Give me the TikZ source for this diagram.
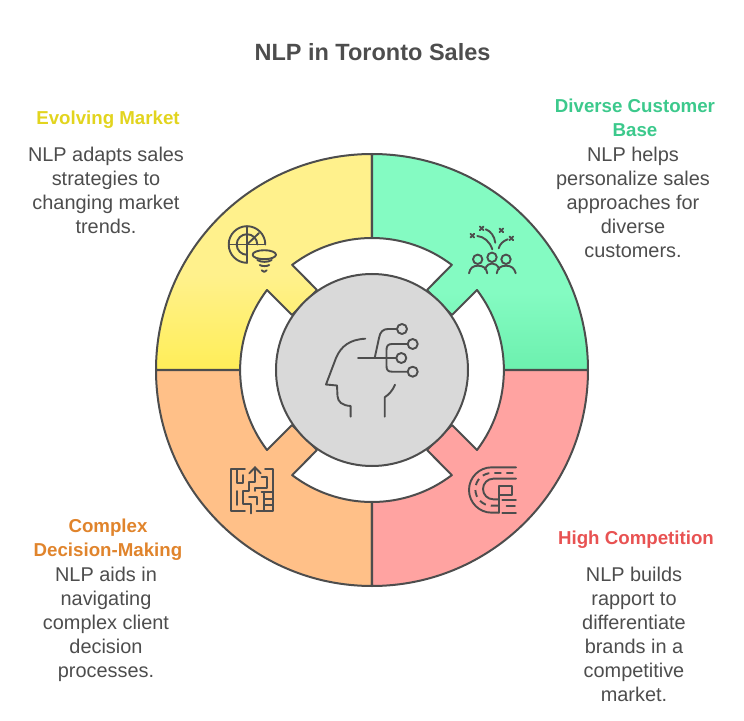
\documentclass[tikz,border=0pt]{standalone}
\usepackage{fontspec}
\setmainfont{Liberation Sans}
\usepackage{tikz}
\usetikzlibrary{positioning}

\definecolor{inkgray}{HTML}{4D4D4D}
\definecolor{hubgray}{HTML}{D9D9D9}
\definecolor{yellowtop}{HTML}{FFF18C}
\definecolor{yellowlow}{HTML}{FFEE58}
\definecolor{greentop}{HTML}{84FBC2}
\definecolor{greenlow}{HTML}{6CF0AE}
\definecolor{orangefill}{HTML}{FFC088}
\definecolor{pinkfill}{HTML}{FFA3A1}
\definecolor{yellowhead}{HTML}{E2D41E}
\definecolor{greenhead}{HTML}{3CC98C}
\definecolor{orangehead}{HTML}{E0842C}
\definecolor{redhead}{HTML}{E85252}

\pgfdeclareverticalshading{yellowquad}{100bp}{color(0bp)=(yellowlow); color(25bp)=(yellowlow); color(47bp)=(yellowtop); color(100bp)=(yellowtop)}
\pgfdeclareverticalshading{greenquad}{100bp}{color(0bp)=(greenlow); color(25bp)=(greenlow); color(43bp)=(greentop); color(100bp)=(greentop)}

\tikzset{
	quad/.style={draw=inkgray, line width=2pt, line join=round},
	icon/.style={draw=inkgray, line width=1.9pt, line cap=round, line join=round},
	head/.style={font=\fontsize{18.7}{24}\selectfont\bfseries, align=center, inner sep=0pt},
	body/.style={font=\fontsize{19.9}{24}\selectfont, text=inkgray, align=center, inner sep=0pt, xshift=-2pt},
}

\begin{document}
\begin{tikzpicture}[x=1pt,y=1pt]
	\useasboundingbox (-372,-350) rectangle (372,370);

	\draw[quad, shading=yellowquad]
		(-216,0) arc (180:90:216) -- (0,132) arc (90:127.2:132) -- (-55,80) -- (-80,55) -- (-105,80) arc (142.8:180:132) -- cycle;
	\draw[quad, shading=greenquad]
		(216,0) arc (0:90:216) -- (0,132) arc (90:52.8:132) -- (55,80) -- (80,55) -- (105,80) arc (37.2:0:132) -- cycle;
	\draw[quad, fill=orangefill]
		(-216,0) arc (180:270:216) -- (0,-132) arc (270:232.8:132) -- (-55,-80) -- (-80,-55) -- (-105,-80) arc (217.2:180:132) -- cycle;
	\draw[quad, fill=pinkfill]
		(216,0) arc (360:270:216) -- (0,-132) arc (270:307.2:132) -- (55,-80) -- (80,-55) -- (105,-80) arc (322.8:360:132) -- cycle;

	\node[circle, draw=inkgray, fill=hubgray, line width=2pt, minimum size=192pt, inner sep=0pt] (hub) at (0,0) {};

	\node[font=\fontsize{23.5}{28}\selectfont\bfseries, text=inkgray, inner sep=0pt] (title) at (0.5,318) {NLP in Toronto Sales};

	\node[head, text=yellowhead] (evolving) at (-264,250) {Evolving Market};
	\node[body, below=18pt of evolving] (evolvingtext) {NLP adapts sales\\strategies to\\changing market\\trends.};

	\node[head, text=greenhead] (diverse) at (263,252) {Diverse Customer\\Base};
	\node[body, below=10pt of diverse] (diversetext) {NLP helps\\personalize sales\\approaches for\\diverse\\customers.};

	\node[head, text=orangehead] (complex) at (-264,-170) {Complex\\Decision-Making};
	\node[body, below=6pt of complex] (complextext) {NLP aids in\\navigating\\complex client\\decision\\processes.};

	\node[head, text=redhead] (high) at (264,-170) {High Competition};
	\node[body, below=18pt of high] (hightext) {NLP builds\\rapport to\\differentiate\\brands in a\\competitive\\market.};

	\begin{scope}[shift={(-372,370)},yscale=-1]
		% head in the hub
		\draw[icon] (365.3,338.7) .. controls (350,339.5) and (341,346) .. (336,358) -- (326,384.5) -- (337,385.5) -- (337.5,396) .. controls (338,402) and (342,405.5) .. (350.7,406) -- (350.7,416.7);
		\draw[icon] (395,384.7) .. controls (393,390) and (389,394.5) .. (384.7,397.3) -- (384.7,416.7);
		\draw[icon] (358,358) -- (396.3,358);
		\draw[icon] (374.7,358) -- (379,338) .. controls (380,332) and (383,329) .. (388,329) -- (397,329);
		\draw[icon] (386.5,358) -- (386.5,350) .. controls (386.5,346) and (388,344) .. (392,344) -- (407.7,344);
		\draw[icon] (386.5,358) -- (386.5,366) .. controls (386.5,370) and (388,371.7) .. (392,371.7) -- (407.7,371.7);
		\draw[icon] (402,329) circle (5);
		\draw[icon] (412.7,344) circle (5);
		\draw[icon] (401.3,358) circle (5);
		\draw[icon] (412.7,371.7) circle (5);

		% radar and funnel
		\draw[icon] (265.3,244.5) arc (0:-270:18.3);
		\draw[icon] (257.3,244.5) arc (0:-270:10.3);
		\draw[icon] (229,244.5) -- (265.3,244.5);
		\draw[icon] (247,226.2) -- (247,262.8);
		\draw[icon] (247,244.5) -- (259,233);
		\draw[icon] (264.3,254.7) ellipse (11.7 and 4.5);
		\draw[icon] (257.3,260) .. controls (261,262.5) and (268,262.5) .. (271.7,260);
		\draw[icon] (259.8,265) .. controls (262,266.5) and (267,266.5) .. (269.2,265);
		\draw[icon] (261.7,270.3) .. controls (263,272.5) and (265.5,272.5) .. (266.7,270.3);

		% crowd and sparks
		\draw[icon] (477.7,259.3) circle (4.7);
		\draw[icon] (492,257.3) circle (4.7);
		\draw[icon] (506,259.3) circle (4.7);
		\draw[icon] (469,273.3) .. controls (470,268) and (473,265.7) .. (478,265.7) .. controls (483,265.7) and (486.5,268) .. (487.3,273.3);
		\draw[icon] (485,269) .. controls (487,265) and (489,263.5) .. (492,263.5) .. controls (495,263.5) and (497.5,265) .. (499.3,269);
		\draw[icon] (496.7,273.3) .. controls (497.5,268) and (501,265.7) .. (506,265.7) .. controls (511,265.7) and (514.5,268) .. (515.7,273.3);
		\draw[icon] (477.3,236) .. controls (484,236.5) and (490,242) .. (492.3,249.3);
		\draw[icon] (485.7,229.3) .. controls (490.5,231) and (494.5,236) .. (495.3,242.7);
		\draw[icon] (507.7,239.3) .. controls (503,241) and (500,244) .. (498.7,248.3);
		\foreach \sparkx/\sparky in {472.3/235.7, 481.7/228.3, 501.3/230.3, 511.3/238.3} {
			\draw[icon] (\sparkx-1.8,\sparky-1.8) -- (\sparkx+1.8,\sparky+1.8);
			\draw[icon] (\sparkx-1.8,\sparky+1.8) -- (\sparkx+1.8,\sparky-1.8);
		}

		% maze
		\begin{scope}[shift={(150,365)},scale=1/3]
			\draw[icon] (285,312) -- (242,312) -- (242,438) -- (285,438);
			\draw[icon] (345,312) -- (370,312) -- (370,438) -- (320,438);
			\draw[icon] (262,312) -- (262,355) -- (278,355) -- (278,330);
			\draw[icon] (298,325) -- (315,307) -- (332,325);
			\draw[icon] (315,307) -- (315,352) -- (297,352) -- (297,378) -- (280,378) -- (280,418) -- (302,418) -- (302,445);
			\draw[icon] (262,378) -- (262,420);
			\draw[icon] (297,395) -- (322,395) -- (322,418);
			\draw[icon] (315,378) -- (315,368) -- (352,368) -- (352,335) -- (335,335);
			\draw[icon] (335,382) -- (365,382);
			\draw[icon] (342,382) -- (342,436);
			\draw[icon] (342,403) -- (365,403);
			\draw[icon] (342,420) -- (365,420);
		\end{scope}

		% race track
		\begin{scope}[shift={(370,365)},scale=1/3]
			\draw[icon] (438,307) -- (365,307) arc (-90:-270:68) -- (387,443);
			\draw[icon] (438,341) -- (370,341) arc (-90:-270:31) -- (387,403);
			\draw[icon, dash pattern=on 7pt off 5pt, line cap=butt] (430,324) -- (365,324) arc (-90:-270:49) -- (387,422);
			\draw[icon] (387,443) -- (387,362) -- (425,362) -- (425,390) -- (387,390);
			\draw[icon] (397,406) -- (438,406);
			\draw[icon] (410,424) -- (435,424);
			\draw[icon] (397,443) -- (438,443);
		\end{scope}
	\end{scope}
\end{tikzpicture}
\end{document}
